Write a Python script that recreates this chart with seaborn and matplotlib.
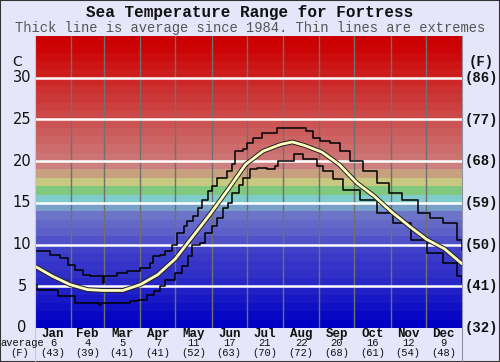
import numpy as np
import pandas as pd
import seaborn as sns
import matplotlib.pyplot as plt
import matplotlib.patheffects as pe
from matplotlib.transforms import blended_transform_factory
from matplotlib.lines import Line2D

# values (day of year, sea temperature in C)
avg_days = [0, 15, 30, 45, 58, 75, 90, 105, 120, 135, 150, 165, 180, 195,
            210, 220, 230, 245, 260, 275, 290, 305, 320, 335, 350, 365]
avg_temp = [7.4, 6.2, 5.2, 4.6, 4.5, 4.5, 5.2, 6.4, 8.3, 11.0, 13.7, 16.6, 19.6, 21.2,
            22.0, 22.3, 21.9, 21.1, 19.6, 17.4, 15.8, 13.9, 12.2, 10.6, 9.5, 7.7]

max_days = [0, 13, 21, 28, 34, 41, 47, 58, 59, 70, 79, 90, 98, 101, 107, 111, 117,
            121, 127, 130, 135, 139, 143, 148, 151, 156, 164, 168, 171, 178, 181,
            186, 194, 207, 224, 232, 238, 244, 252, 261, 269, 280, 292, 303, 314,
            327, 338, 349, 361, 365]
max_temp = [9.2, 8.8, 8.4, 7.6, 7.0, 6.4, 6.2, 5.4, 6.2, 6.6, 6.8, 7.2, 7.8, 8.6, 8.8, 9.2, 10.0,
            11.4, 12.2, 12.8, 13.4, 14.4, 15.4, 16.4, 17.0, 18.0, 18.8, 19.6, 21.2, 21.4, 22.2,
            22.8, 23.4, 24.0, 24.0, 23.6, 22.8, 22.4, 22.2, 21.2, 20.0, 18.8, 17.4, 16.2, 15.4,
            13.8, 13.2, 12.6, 10.6, 9.4]

min_days = [0, 2, 20, 34, 55, 56, 81, 88, 96, 102, 107, 111, 120, 126, 131, 134, 141,
            145, 151, 156, 161, 165, 168, 174, 178, 184, 190, 198, 205, 208, 221,
            229, 241, 246, 255, 263, 278, 292, 306, 321, 335, 349, 361, 365]
min_temp = [5.2, 4.5, 3.8, 3.0, 2.8, 3.0, 3.2, 3.4, 4.0, 4.4, 5.0, 5.8, 6.6, 7.4, 8.6, 10.0, 10.2,
            11.4, 12.2, 13.2, 14.4, 15.0, 16.2, 17.2, 18.0, 19.0, 19.2, 19.0, 19.4, 20.0, 20.8,
            20.2, 19.4, 18.8, 17.8, 16.6, 15.4, 13.8, 12.6, 10.6, 9.0, 7.8, 6.2, 5.4]

months = ['Jan', 'Feb', 'Mar', 'Apr', 'May', 'Jun', 'Jul', 'Aug', 'Sep', 'Oct', 'Nov', 'Dec']
month_avg_c = [6, 4, 5, 7, 11, 17, 21, 22, 20, 16, 12, 9]
month_avg_f = [43, 39, 41, 41, 52, 63, 70, 72, 68, 61, 54, 48]
month_start = [0, 31, 59, 90, 120, 151, 181, 212, 243, 273, 304, 334, 365]

c_ticks = [0, 5, 10, 15, 20, 25, 30]
f_ticks = ['(32)', '(41)', '(50)', '(59)', '(68)', '(77)', '(86)']

# one colour per degree band, 0..35 C
band_colors = (
    ['#0000c4', '#0808c4', '#1010c4', '#1818c6', '#2020c6',
     '#2828c6', '#3030c6', '#3434c8', '#3a3ac8', '#4040c8',
     '#5050c8', '#5c60c8', '#6468c8', '#6c74c8', '#78a0c8',
     '#80cccc', '#80c880', '#c8c880', '#c8a080', '#cc8080',
     '#cc7474', '#cc6c6c', '#cc6464', '#cc5c5c', '#cc5454',
     '#cc4848', '#cc4040', '#cc3838', '#cc3030', '#cc2828',
     '#cc1c1c', '#cc1414', '#cc0c0c', '#cc0404', '#cc0000']
)

sns.set_style('white')
mono = 'Liberation Mono'

fig = plt.figure(figsize=(5, 3.62), dpi=100, facecolor='#e6e6fa')
ax = fig.add_axes([35 / 500, 1 - 328 / 362, 427 / 500, 292 / 362])
ax.set_facecolor('#e6e6fa')

for i, col in enumerate(band_colors):
    ax.axhspan(i, i + 1, color=col, lw=0, zorder=0)

for d in month_start[1:-1]:
    ax.axvline(d, color='#707070', lw=1, zorder=1)
for t in c_ticks[1:]:
    ax.axhline(t, color='white', lw=1.8, zorder=2)

df_avg = pd.DataFrame({'day': avg_days, 'temp': avg_temp})
df_max = pd.DataFrame({'day': max_days, 'temp': max_temp})
df_min = pd.DataFrame({'day': min_days, 'temp': min_temp})

sns.lineplot(data=df_max, x='day', y='temp', ax=ax, color='black', lw=1.1,
             drawstyle='steps-post', zorder=3)
sns.lineplot(data=df_min, x='day', y='temp', ax=ax, color='black', lw=1.1,
             drawstyle='steps-post', zorder=3)
sns.lineplot(data=df_avg, x='day', y='temp', ax=ax, color='#ffffc0', lw=2.0, zorder=4,
             path_effects=[pe.Stroke(linewidth=3.4, foreground='#202020'), pe.Normal()])

ax.set_xlim(0, 365)
ax.set_ylim(0, 35)
ax.set_xlabel('')
ax.set_ylabel('')
ax.set_xticks([])
ax.set_yticks([])
for s in ax.spines.values():
    s.set_visible(False)

# left C axis labels
for t in c_ticks:
    fig.text(22 / 500, 1 - (328 - t * 250 / 30) / 362, str(t), ha='center', va='center',
             fontsize=10.5, family='DejaVu Sans', color='#111111')
fig.text(17 / 500, 1 - 62 / 362, 'C', ha='center', va='center', fontsize=10,
         family='DejaVu Sans', color='#111111')

# right F axis labels
for t, lab in zip(c_ticks, f_ticks):
    fig.text(481 / 500, 1 - (328 - t * 250 / 30) / 362, lab, ha='center', va='center',
             fontsize=10, family=mono, weight='bold', color='#111111')
fig.text(481 / 500, 1 - 62 / 362, '(F)', ha='center', va='center', fontsize=10,
         family=mono, weight='bold', color='#111111')

# month labels with averages
trans = blended_transform_factory(ax.transData, fig.transFigure)
for i, m in enumerate(months):
    mid = (month_start[i] + month_start[i + 1]) / 2
    ax.text(mid, 1 - 334 / 362, m, transform=trans, ha='center', va='center',
            fontsize=9, family=mono, weight='bold', color='#111111')
    ax.text(mid, 1 - 343.5 / 362, str(month_avg_c[i]), transform=trans, ha='center',
            va='center', fontsize=7.5, family=mono, color='#111111')
    ax.text(mid, 1 - 352.5 / 362, '(%d)' % month_avg_f[i], transform=trans, ha='center',
            va='center', fontsize=7.5, family=mono, color='#111111')
fig.text(22 / 500, 1 - 343.5 / 362, 'average', ha='center', va='center', fontsize=7.5,
         family=mono, color='#111111')
fig.text(20 / 500, 1 - 352.5 / 362, '(F)', ha='center', va='center', fontsize=7.5,
         family=mono, color='#111111')

# titles
fig.text(0.5, 1 - 13 / 362, 'Sea Temperature Range for Fortress', ha='center', va='center',
         fontsize=11.5, family=mono, weight='bold', color='#111111')
fig.text(0.5, 1 - 28 / 362, 'Thick line is average since 1984. Thin lines are extremes',
         ha='center', va='center', fontsize=9.9, family=mono, color='#555555')

# frame lines
fig.add_artist(Line2D([462 / 500, 462 / 500], [0, 1 - 36 / 362], color='#9090a0', lw=0.8))
fig.add_artist(Line2D([35 / 500, 35 / 500], [0, 1 - 36 / 362], color='#c8c8dc', lw=0.8))
fig.add_artist(plt.Rectangle((0, 0), 1, 1, transform=fig.transFigure, fill=False,
                             edgecolor='#333333', lw=1.5))

fig.savefig('out.png', dpi=100, facecolor=fig.get_facecolor())
